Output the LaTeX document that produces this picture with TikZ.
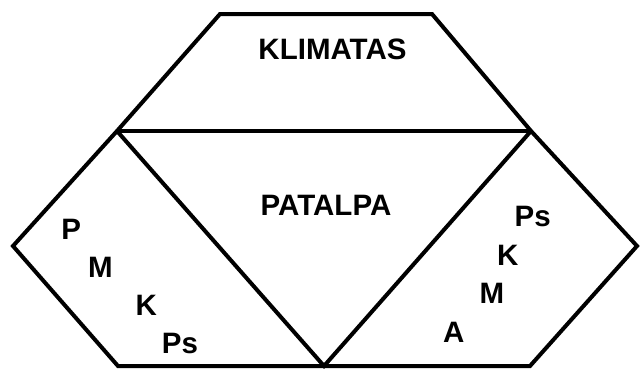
\documentclass[tikz,border=0pt]{standalone}
\usepackage{fontspec}
\setmainfont{Liberation Sans}
\begin{document}
\begin{tikzpicture}[x=1pt,y=-1pt,
  edge/.style={line width=4pt,line join=miter},
  lbl/.style={font=\fontsize{29.5}{31}\selectfont\bfseries,inner sep=0pt,anchor=base}]
\useasboundingbox (0,0) rectangle (644,368);
% corner points
\coordinate (tl) at (220,14);
\coordinate (tr) at (432,14);
\coordinate (ml) at (117,131);
\coordinate (mr) at (531,131);
\coordinate (lp) at (13,246);
\coordinate (rp) at (637,246);
\coordinate (bl) at (118,366);
\coordinate (bm) at (324,366);
\coordinate (br) at (530,366);
% outline and inner divisions
\draw[edge] (ml) -- (tl) -- (tr) -- (mr) -- (rp) -- (br) -- (bm) -- (bl) -- (lp) -- cycle;
\draw[edge] (ml) -- (mr);
\draw[edge] (ml) -- (bm) -- (mr);
% region titles
\node[lbl] (klim) at (332.5,59.3) {KLIMATAS};
\node[lbl] (pat) at (326,215.7) {PATALPA};
% left region letters
\node[lbl] (lP)  at (71.3,239.3) {P};
\node[lbl] (lM)  at (100.5,277.7) {M};
\node[lbl] (lK)  at (146.3,315.7) {K};
\node[lbl] (lPs) at (180,353.3) {Ps};
% right region letters
\node[lbl] (rPs) at (532.7,226.7) {Ps};
\node[lbl] (rK)  at (507.8,265) {K};
\node[lbl] (rM)  at (492,303.3) {M};
\node[lbl] (rA)  at (453.7,342.3) {A};
\end{tikzpicture}
\end{document}
